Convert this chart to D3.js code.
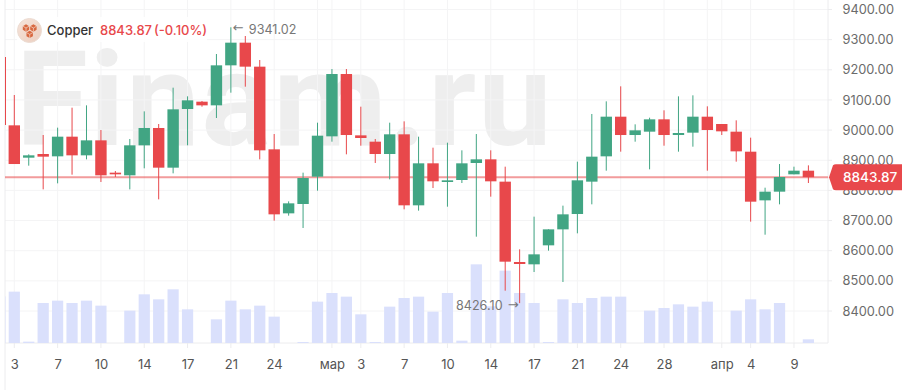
<!DOCTYPE html>
<html><head><meta charset="utf-8">
<script src="https://cdn.jsdelivr.net/npm/d3@7/dist/d3.min.js"></script>
<style>html,body{margin:0;padding:0;background:#fff;overflow:hidden}svg{display:block;font-family:Inter,sans-serif}</style>
</head><body><svg id="c" width="902" height="390"></svg>
<script>
const highs=[9241,9116.4,8919.6,8983.7,9008.1,9074.4,9082.1,9000.3,8864.3,8970.5,9062.2,9020.2,9140.7,9112,9096.5,9252.4,9341.02,9312.1,9232.5,8987,8763.7,8858.8,9024.6,9202.6,9202.6,9077.7,8970.5,9024.6,9029,8978.2,8941.7,8958.3,8932.9,8987,8932.9,8878.7,8604.5,8712.9,8670.8,8749.4,8895.3,9053.4,9095.4,9145.2,9019.1,9041.2,9065.6,9112,9115.3,9078.8,9020.2,9032.4,8974.9,8809,8887.5,8878.7,8883.1];
const lows=[9017,8887.5,8882,8803.5,8823.4,8852.2,8903,8827.9,8844.4,8803.5,8873.2,8770.3,8856.6,8949.5,9077.7,9040.1,9124.1,9144,8903,8699.6,8716.2,8675.3,8799.1,8961.6,8919.6,8948.3,8890.9,8836.7,8737.2,8732.8,8807.9,8746,8824.5,8646.5,8779.2,8467.4,8426.10,8529.3,8600.1,8496.2,8657.6,8753.8,8865.4,8928.4,8961.6,8869.9,8948.3,8928.4,8945,8865.4,8983.7,8895.3,8696.3,8653.1,8753.8,8853.3,8824.5];
const opens=[9241,9015.8,8908.5,8920.7,8913,8978.2,8916.3,8966,8858.8,8850,8949.5,9007,8875.4,9070,9094.3,9082.1,9214.8,9290,9210.4,8936.2,8723.9,8754.9,8845.5,8979.3,9186,8982.6,8961.6,8920.7,8986,8750.5,8889.8,8827.9,8834.5,8890.9,8903,8829,8562.5,8554.8,8617.8,8670.8,8721.7,8829,8913,9044.5,8983.7,8994.8,9035.7,8983.7,8991.5,9044.5,9020.2,8994.8,8928.4,8767,8795.8,8853.3,8865.4];
const closes=[9017,8887.5,8916.3,8911.9,8978.2,8916.3,8966,8850,8853.3,8949.5,9007,8875.4,9068.9,9098.7,9082.1,9214.8,9290,9210.4,8932.9,8720.6,8757.1,8841.1,8981.5,9186,8983.7,8973.8,8920.7,8986,8750.5,8889.8,8830.1,8833.4,8889.8,8903,8830.1,8563.6,8555.9,8587.9,8670.8,8720.6,8833.4,8911.9,9044.5,8983.7,8999.2,9035.7,8983.7,8990.4,9044.5,9000.3,8995.9,8929.5,8762.6,8795.8,8844.4,8865.4,8843.87];
const volumes=[140,154,4,120,127,120,127,112,0,97,146,131,161,101,0,71,127,101,112,79,0,3,124,150,139,86,3,109,135,139,94,150,7,236,110,217,150,120,3,131,120,135,139,139,0,97,105,116,109,124,0,97,131,101,120,0,11];
const startIndex=-1;
const tickIdx=[0,3,6,9,12,15,18,22,24,27,30,33,36,39,42,45,49,51,54];
const tickLabels=["3","7","10","14","17","21","24","мар","3","7","10","14","17","21","24","28","апр","4","9"];
const extraGrid=[21,48];
const priceTicks=[9400,9300,9200,9100,9000,8900,8800,8700,8600,8500,8400];
const lastPrice=8843.87, maxPrice=9341.02, minPrice=8426.10;
const instrument="Copper", changeText="(-0.10%)", watermark="Finam.ru";

const UP="#41a583",DOWN="#e8484b",VOL="#d8defc",GRID="#f4f4f5",TXT="#6b6b6b";
const L=5,R=828,AX=343;
const x=d3.scaleLinear().domain([0,55]).range([14.3,808.4]);
const y=d3.scaleLinear().domain([8400,9400]).range([311,9.5]);
const v=d3.scaleLinear().domain([0,300]).range([AX,AX-100]);
const svg=d3.select("#c");
const defs=svg.append("defs");
defs.append("clipPath").attr("id","plot").append("rect").attr("x",L).attr("y",0).attr("width",R-L).attr("height",AX);
const rg=defs.append("linearGradient").attr("id","ic").attr("x1",0).attr("y1",0).attr("x2",1).attr("y2",1);
rg.append("stop").attr("offset",0).attr("stop-color","#f6e4da");rg.append("stop").attr("offset",1).attr("stop-color","#eccfc0");

svg.append("text").attr("x",16).attr("y",145).attr("font-size",131).attr("font-weight",700).attr("letter-spacing",1.8).attr("font-family","Roboto,sans-serif").attr("fill","#eeeeee").text(watermark);

const g=svg.append("g");
g.selectAll(".h").data(priceTicks).join("line").attr("x1",L).attr("x2",R).attr("y1",d=>y(d)).attr("y2",d=>y(d)).attr("stroke",GRID).attr("stroke-width",1);
g.selectAll(".v").data(tickIdx.concat(extraGrid)).join("line").attr("x1",d=>x(d)).attr("x2",d=>x(d)).attr("y1",0).attr("y2",AX).attr("stroke",GRID).attr("stroke-width",1);
g.append("line").attr("x1",L).attr("x2",L).attr("y1",0).attr("y2",390).attr("stroke","#ececee");
g.append("line").attr("x1",R).attr("x2",R).attr("y1",0).attr("y2",AX).attr("stroke","#ececee");
g.append("line").attr("x1",L).attr("x2",R).attr("y1",AX).attr("y2",AX).attr("stroke","#ececee");
g.selectAll(".t").data(tickIdx).join("line").attr("x1",d=>x(d)).attr("x2",d=>x(d)).attr("y1",AX).attr("y2",AX+5).attr("stroke","#ececee");
g.selectAll(".pt").data(priceTicks).join("line").attr("x1",R).attr("x2",R+4).attr("y1",d=>y(d)).attr("y2",d=>y(d)).attr("stroke","#ececee");

const plot=svg.append("g").attr("clip-path","url(#plot)");
const idx=d3.range(highs.length);
const cx=i=>x(i+startIndex);
plot.selectAll(".vol").data(idx.filter(i=>volumes[i]>0)).join("rect")
 .attr("x",i=>cx(i)-5.6).attr("width",11.2).attr("y",i=>v(volumes[i])).attr("height",i=>AX-v(volumes[i])).attr("fill",VOL).attr("opacity",.95);

const col=i=>closes[i]>=opens[i]?UP:DOWN;
plot.append("line").attr("x1",L).attr("x2",R+2).attr("y1",y(lastPrice)).attr("y2",y(lastPrice)).attr("stroke",DOWN).attr("stroke-opacity",.55).attr("stroke-width",2);
plot.selectAll(".w").data(idx).join("line").attr("x1",cx).attr("x2",cx).attr("y1",i=>y(highs[i])).attr("y2",i=>y(lows[i])).attr("stroke",col).attr("stroke-width",1);
plot.selectAll(".b").data(idx).join("rect").attr("x",i=>cx(i)-5.7).attr("width",11.4)
 .attr("y",i=>y(Math.max(opens[i],closes[i]))).attr("height",i=>Math.max(1.2,Math.abs(y(opens[i])-y(closes[i])))).attr("fill",col)
 .attr("shape-rendering",i=>i===0?"crispEdges":null);

const axisBottom=d3.axisBottom(x).tickValues(tickIdx).tickFormat((d,i)=>tickLabels[i]).tickSize(0).tickPadding(0);
const ax=svg.append("g").attr("transform",`translate(0,${AX+26})`).call(axisBottom);
ax.select(".domain").remove();
ax.selectAll("text").attr("y",0).attr("dy",0).attr("font-size",13).attr("font-family","Inter,sans-serif").attr("fill","#555");
const axisRight=d3.axisRight(y).tickValues(priceTicks).tickFormat(d3.format(".2f")).tickSize(0).tickPadding(0);
const ay=svg.append("g").attr("transform",`translate(842.5,0)`).call(axisRight);
ay.select(".domain").remove();
ay.selectAll("text").attr("x",0).attr("font-size",12.8).attr("font-family","Inter,sans-serif").attr("fill",TXT);

// price tag
const py=y(lastPrice);
svg.append("path").attr("d",`M829,${py} L833,${py-12} Q834,${py-13} 836,${py-13} L902,${py-13} L902,${py+13} L836,${py+13} Q834,${py+13} 833,${py+12} Z`).attr("fill",DOWN);
svg.append("text").attr("x",843).attr("y",py+5).attr("font-size",13.6).attr("font-weight",500).attr("fill","#fff").text(lastPrice.toFixed(2));

// high/low annotations
const hx=cx(16),lx=cx(36);
svg.append("text").attr("x",hx+2).attr("y",y(maxPrice)+5).attr("font-size",13).attr("fill","#777").text("←").attr("font-family","DejaVu Sans");
svg.append("text").attr("x",hx+18).attr("y",y(maxPrice)+7).attr("font-size",12.6).attr("fill","#777").text(maxPrice.toFixed(2));
svg.append("text").attr("x",lx-1).attr("y",y(minPrice)+6).attr("text-anchor","end").attr("font-size",13).attr("fill","#777").text("→").attr("font-family","DejaVu Sans");
svg.append("text").attr("x",lx-17).attr("y",y(minPrice)+6.5).attr("text-anchor","end").attr("font-size",12.6).attr("fill","#777").text(minPrice.toFixed(2));

// legend
svg.append("rect").attr("x",17).attr("y",17).attr("width",190).attr("height",25).attr("fill","#fff").attr("opacity",.85);
svg.append("circle").attr("cx",29.5).attr("cy",30.5).attr("r",12).attr("fill","url(#ic)").attr("stroke","#ecdcd2");
const hexes=[[26,28],[33.4,28],[29.7,34.4]];
const hexG=svg.selectAll(".hx").data(hexes).join("g").attr("transform",d=>`translate(${d[0]},${d[1]})`);
hexG.append("path").attr("d",d3.range(6).map(k=>{const t=Math.PI/3*k+Math.PI/6;return (k?"L":"M")+(3.7*Math.cos(t))+","+(3.7*Math.sin(t));}).join("")+"Z").attr("fill","#d8683f");
hexG.append("path").attr("d","M0,0L0,3.7M0,0L3.2,-1.85M0,0L-3.2,-1.85").attr("stroke","#f3d9cb").attr("stroke-width",.7).attr("fill","none");
svg.append("text").attr("x",47).attr("y",35).attr("font-size",13).attr("font-weight",500).attr("fill","#333").text(instrument);
svg.append("text").attr("x",100).attr("y",35).attr("font-size",13).attr("font-weight",500).attr("fill",DOWN).text(lastPrice.toFixed(2));
svg.append("text").attr("x",154).attr("y",35).attr("font-size",13).attr("font-weight",500).attr("fill",DOWN).text(changeText);
</script></body></html>
